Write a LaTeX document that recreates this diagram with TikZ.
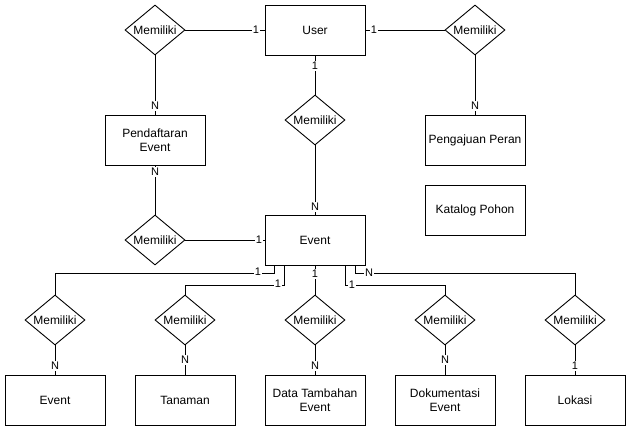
\documentclass[tikz,border=0pt]{standalone}
\usepackage{fontspec}
\setmainfont{Liberation Sans}
\usetikzlibrary{shapes.geometric}
\begin{document}
\begin{tikzpicture}[x=1pt,y=-1pt,line width=0.9pt,
  ent/.style={draw,minimum width=100pt,minimum height=50pt,align=center,inner sep=1pt,font=\fontsize{12}{14}\selectfont},
  rel/.style={draw,diamond,minimum width=60pt,minimum height=50pt,inner sep=0pt,aspect=1.2,font=\fontsize{12}{14}\selectfont},
  lbl/.style={fill=white,inner sep=1pt,font=\fontsize{11}{12}\selectfont}]
\useasboundingbox (0,0) rectangle (631,431);
% entities
\node[ent] (user) at (315,30) {User};
\node[ent] (pend) at (155,140) {Pendaftaran\\Event};
\node[ent] (peng) at (475,140) {Pengajuan Peran};
\node[ent] (kat) at (475,210) {Katalog Pohon};
\node[ent] (ev) at (315,240) {Event};
\node[ent] (b1) at (55,400) {Event};
\node[ent] (b2) at (185,400) {Tanaman};
\node[ent] (b3) at (315,400) {Data Tambahan\\Event};
\node[ent] (b4) at (445,400) {Dokumentasi\\Event};
\node[ent] (b5) at (575,400) {Lokasi};
% relationships
\node[rel] (rl) at (155,30) {Memiliki};
\node[rel] (rr) at (475,30) {Memiliki};
\node[rel] (rc) at (315,120) {Memiliki};
\node[rel] (rm) at (155,240) {Memiliki};
\node[rel] (d1) at (55,320) {Memiliki};
\node[rel] (d2) at (185,320) {Memiliki};
\node[rel] (d3) at (315,320) {Memiliki};
\node[rel] (d4) at (445,320) {Memiliki};
\node[rel] (d5) at (575,320) {Memiliki};
% connectors
\draw (rl.east) -- (user.west);
\draw (user.east) -- (rr.west);
\draw (rl.south) -- (pend.north);
\draw (rr.south) -- (peng.north);
\draw (user.south) -- (rc.north);
\draw (rc.south) -- (ev.north);
\draw (pend.south) -- (rm.north);
\draw (rm.east) -- (ev.west);
\draw ([xshift=10pt]ev.south west) -- ++(0,8) -| (d1.north);
\draw ([xshift=20pt]ev.south west) -- ++(0,20) -| (d2.north);
\draw (ev.south) -- (d3.north);
\draw ([xshift=-20pt]ev.south east) -- ++(0,20) -| (d4.north);
\draw ([xshift=-10pt]ev.south east) -- ++(0,8) -| (d5.north);
\draw (d1.south) -- (b1.north);
\draw (d2.south) -- (b2.north);
\draw (d3.south) -- (b3.north);
\draw (d4.south) -- (b4.north);
\draw (d5.south) -- (b5.north);
% labels
\node[lbl] at (256,30) {1};
\node[lbl] at (374,30) {1};
\node[lbl] at (155,106) {N};
\node[lbl] at (475,106) {N};
\node[lbl] at (315,66) {1};
\node[lbl] at (315,207) {N};
\node[lbl] at (155,172) {N};
\node[lbl] at (259,240) {1};
\node[lbl] at (258,272) {1};
\node[lbl] at (278,284) {1};
\node[lbl] at (315,274) {1};
\node[lbl] at (352,285) {1};
\node[lbl] at (369,273) {N};
\node[lbl] at (55,366) {N};
\node[lbl] at (185,360) {N};
\node[lbl] at (315,366) {N};
\node[lbl] at (445,360) {N};
\node[lbl] at (575,366) {1};
\end{tikzpicture}
\end{document}
